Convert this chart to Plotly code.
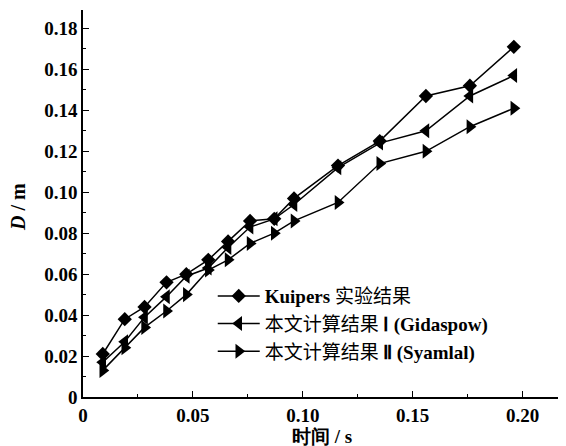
import plotly.graph_objects as go

# time (s)
time_s = [0.009, 0.019, 0.028, 0.038, 0.047, 0.057, 0.066, 0.076, 0.087, 0.096,
          0.116, 0.135, 0.156, 0.176, 0.196]
kuipers = [0.021, 0.038, 0.044, 0.056, 0.060, 0.067, 0.076, 0.086, 0.087, 0.097,
           0.113, 0.125, 0.147, 0.152, 0.171]
gidaspow = [0.017, 0.027, 0.039, 0.049, 0.059, 0.063, 0.073, 0.083, 0.087, 0.094,
            0.112, 0.124, 0.130, 0.147, 0.157]
syamlal = [0.013, 0.024, 0.034, 0.042, 0.050, 0.062, 0.067, 0.075, 0.080, 0.086,
           0.095, 0.114, 0.120, 0.132, 0.141]

SERIF = "Liberation Serif"
CJK = "Noto Sans CJK SC"

def mixed(latin_a, cjk, latin_b=""):
    s = ""
    if latin_a:
        s += f"<span style='font-family:{SERIF}'><b>{latin_a}</b></span>"
    s += f"<span style='font-family:{CJK}'>{cjk}</span>"
    if latin_b:
        s += f"<span style='font-family:{SERIF}'><b>{latin_b}</b></span>"
    return s

names = [
    mixed("Kuipers ", "实验结果"),
    mixed("", "本文计算结果 ", "Ⅰ (Gidaspow)"),
    mixed("", "本文计算结果 ", "Ⅱ (Syamlal)"),
]

x_tickvals = [0, 0.05, 0.10, 0.15, 0.20]
x_ticktext = ["0", "0.05", "0.10", "0.15", "0.20"]
y_tickvals = [0, 0.02, 0.04, 0.06, 0.08, 0.10, 0.12, 0.14, 0.16, 0.18]
y_ticktext = ["0", "0.02", "0.04", "0.06", "0.08", "0.10", "0.12", "0.14", "0.16", "0.18"]

fig = go.Figure()
series = [(kuipers, "diamond", 11), (gidaspow, "triangle-left", 13), (syamlal, "triangle-right", 13)]
for (vals, sym, sz), nm in zip(series, names):
    fig.add_trace(go.Scatter(
        x=time_s, y=vals, name=nm, mode="lines+markers",
        line=dict(color="black", width=1.5),
        marker=dict(symbol=sym, size=sz, color="black"),
    ))

# the page body has an 8px margin, so the figure is sized to fit the window
fig.update_layout(
    width=558, height=438,
    margin=dict(l=75, r=6, t=2, b=49),
    paper_bgcolor="white", plot_bgcolor="white",
    font=dict(family=SERIF, size=19, color="black"),
    showlegend=True,
    legend=dict(x=0.272, y=0.31, xanchor="left", yanchor="top",
                bgcolor="rgba(0,0,0,0)", font=dict(family=SERIF, size=19, color="black"),
                tracegroupgap=0, itemwidth=42),
    annotations=[
        dict(text="<b>时间 / s</b>", xref="paper", yref="paper", x=0.5, y=-0.102,
             xanchor="center", yanchor="middle", showarrow=False,
             font=dict(family=SERIF, size=19, color="black")),
        dict(text="<b><i>D</i> / m</b>", xref="paper", yref="paper", x=-0.135, y=0.49,
             xanchor="center", yanchor="middle", showarrow=False, textangle=-90,
             font=dict(family=SERIF, size=20, color="black")),
    ],
)
fig.update_xaxes(
    range=[0, 0.217], showline=True, linecolor="black", linewidth=1.5,
    showgrid=False, zeroline=False, ticks="inside", ticklen=6, tickcolor="black",
    tickvals=x_tickvals, ticktext=x_ticktext, automargin=False,
    tickfont=dict(family=SERIF, size=19, color="black", weight="bold"),
    minor=dict(ticks="inside", ticklen=3, dtick=0.025, tick0=0, tickcolor="black", showgrid=False),
)
fig.update_yaxes(
    range=[0, 0.189], showline=True, linecolor="black", linewidth=1.5,
    showgrid=False, zeroline=False, ticks="inside", ticklen=6, tickcolor="black",
    tickvals=y_tickvals, ticktext=y_ticktext, automargin=False,
    tickfont=dict(family=SERIF, size=19, color="black", weight="bold"),
    minor=dict(ticks="inside", ticklen=3, dtick=0.01, tick0=0, tickcolor="black", showgrid=False),
)

fig.write_html("out.html")
